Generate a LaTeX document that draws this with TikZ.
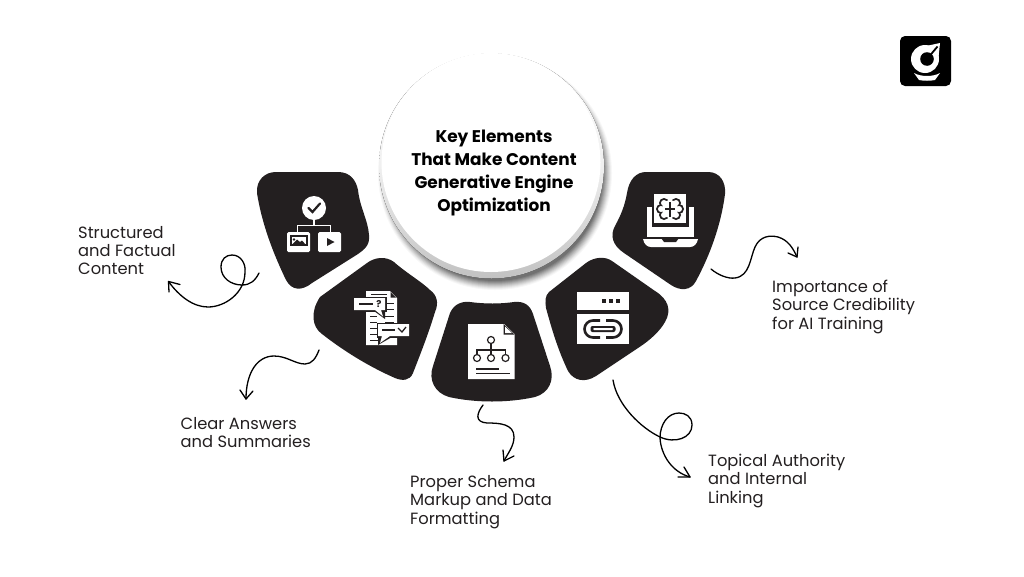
\documentclass[tikz,border=0pt]{standalone}
\usepackage{fontspec}
\setmainfont{Poppins}
\definecolor{ink}{HTML}{231F20}
\tikzset{
  blob/.style={fill=ink,draw=none},
  wic/.style={fill=white,draw=none},
  hand/.style={draw=black,line width=1.3pt,line cap=round,line join=round,fill=none},
  lab/.style={align=left,anchor=north west,inner sep=0pt,font=\fontsize{16.3}{18.2}\selectfont,text=ink},
}
\begin{document}
\begin{tikzpicture}[x=1pt,y=-1pt]
\useasboundingbox (0,0) rectangle (1024,576);
\fill[white] (0,0) rectangle (1024,576);
% shadow of the central disc
\foreach \r/\o in {117/0.03,116/0.04,115/0.05,114/0.06,113/0.07,112/0.08,111/0.09,110/0.10,109/0.11,108/0.12}{
  \fill[black,opacity=\o] (495,173) circle (\r);
}
\fill[top color=white,bottom color=gray!48,middle color=gray!12,draw=none] (491.5,166) circle (112.5);
\node[circle,fill=white,inner sep=0pt,minimum size=219pt] (hub) at (491,162.5) {};
\node[align=center,inner sep=0pt,font=\bfseries\fontsize{16.9}{22.8}\selectfont,text=black] (title) at (494,173)
 {Key Elements\\That Make Content\\Generative Engine\\Optimization};
% blobs
\path[blob] (257,193) .. controls (256,180) and (265,172) .. (276,172)
 -- (338,172) .. controls (350,172) and (356,180) .. (358,190)
 .. controls (360,208) and (368,220) .. (369,235)
 .. controls (370,245) and (365,249) .. (358,254)
 -- (312,283) .. controls (302,291) and (292,291) .. (286,280)
 .. controls (274,255) and (262,225) .. (257,193) -- cycle;
\path[blob] (320,297) -- (367,263) .. controls (375,257) and (386,256) .. (394,262)
 .. controls (405,272) and (422,282) .. (430,290)
 .. controls (437,295) and (439,303) .. (435,312)
 .. controls (428,335) and (420,355) .. (413,373)
 .. controls (410,381) and (402,381) .. (395,378)
 .. controls (370,367) and (345,352) .. (322,334)
 .. controls (312,327) and (310,312) .. (320,297) -- cycle;
\path[blob] (450,313) .. controls (454,304) and (462,301) .. (470,302)
 .. controls (485,304) and (500,304) .. (514,302)
 .. controls (524,301) and (530,305) .. (533,314)
 -- (550,366) .. controls (555,380) and (549,393) .. (535,397)
 .. controls (508,403) and (476,403) .. (449,397)
 .. controls (435,393) and (428,380) .. (433,366) -- cycle;
\path[blob] (549,292) -- (586,263) .. controls (594,257) and (605,256) .. (612,261)
 -- (655,291) .. controls (668,299) and (672,310) .. (665,322)
 .. controls (660,331) and (650,340) .. (641,346)
 -- (596,376) .. controls (585,383) and (574,381) .. (568,371)
 .. controls (558,350) and (552,330) .. (546,308)
 .. controls (545,301) and (545,296) .. (549,292) -- cycle;
\path[blob] (627,193) .. controls (629,180) and (636,172) .. (646,172)
 -- (708,172) .. controls (720,172) and (726,182) .. (725,194)
 .. controls (721,225) and (710,255) .. (696,281)
 .. controls (691,291) and (680,291) .. (671,285)
 -- (624,253) .. controls (612,245) and (610,235) .. (615,226)
 .. controls (621,215) and (625,205) .. (627,193) -- cycle;
% icon 1
\fill[wic] (314,208) circle (12);
\draw[ink,line width=2.2pt,line cap=round] (308.5,208) -- (312.5,212) -- (320,203.5);
\draw[white,line width=1.8pt] (314,219) -- (314,225.5) (297.5,233) -- (297.5,225.5) -- (330.5,225.5) -- (330.5,233);
\fill[wic,rounded corners=1.5pt] (287,232) rectangle (310,252);
\fill[wic,rounded corners=1.5pt] (318,232) rectangle (341,252);
\fill[ink] (289.5,235) rectangle (307.5,245.5);
\fill[white] (291.5,237) rectangle (305.5,244);
\fill[ink] (291.5,245) -- (297,239.5) -- (300,242) -- (302,240.5) -- (306,245) -- cycle;
\fill[ink] (294,239.5) circle (1.3);
\fill[ink] (327,238) -- (334.5,242) -- (327,246) -- cycle;
% icon 2
\fill[wic] (366,291) -- (390,291) -- (397,298) -- (397,345) -- (366,345) -- cycle;
\fill[ink] (390.5,292) -- (396,297.5) -- (390.5,297.5) -- cycle;
\draw[ink,line width=1pt] (371,294.5) -- (387,294.5);
\foreach \y in {303,309}{\draw[ink,line width=1pt] (387,\y) -- (394,\y);}
\foreach \y in {316,322}{\draw[ink,line width=1pt] (385,\y) -- (394,\y);}
\foreach \y in {316,322,328,334,340}{\draw[ink,line width=1pt] (370,\y) -- (377,\y);}
\draw[ink,line width=1pt] (370,340.5) -- (382,340.5);
\fill[ink] (352.5,296.5) rectangle (387,311.5);
\fill[ink] (374,311) -- (385,311) -- (385,319) -- cycle;
\fill[wic] (354,298) -- (385,298) -- (385,310) -- (381,310) -- (383,316.5) -- (375,310) -- (354,310) -- cycle;
\draw[ink,line width=1.1pt] (359,304) -- (373,304);
\node[inner sep=0pt,font=\bfseries\fontsize{9.5}{9.5}\selectfont,text=ink] (qm) at (379,304) {?};
\fill[ink] (376.5,322.5) rectangle (410.5,337.5);
\fill[ink] (378,337) -- (392,337) -- (378,345) -- cycle;
\fill[wic] (378,324) -- (409,324) -- (409,336) -- (390,336) -- (380,343) -- (382,336) -- (378,336) -- cycle;
\draw[ink,line width=1.1pt] (382,330) -- (395,330);
\draw[ink,line width=1.3pt] (398,328) -- (402,332) -- (406,327);
% icon 3
\fill[wic] (468,324) -- (504,324) -- (514.5,334) -- (514.5,379) -- (468,379) -- cycle;
\fill[ink] (503.5,324) -- (514.5,334.5) -- (503.5,334.5) -- cycle;
\fill[white] (505,326.5) -- (512,333) -- (505,333) -- cycle;
\draw[ink,line width=1.2pt] (491,344) -- (491,354) (477,354) -- (477,350) -- (505.5,350) -- (505.5,354);
\foreach \x/\y in {491/340,477/358,491/358,505.5/358}{\draw[ink,line width=1.2pt] (\x,\y) circle (3.5);}
\draw[ink,line width=1.1pt] (476,369) -- (499,369) (476,373.5) -- (510,373.5);
% icon 4
\fill[wic] (577,292) rectangle (629,310);
\fill[wic] (577,314) rectangle (629,344);
\foreach \x in {604,611,618}{\fill[ink] (\x-2,299) rectangle (\x+2,303);}
\draw[ink,line width=2.6pt] (600,320.5) -- (593,320.5) arc[start angle=-90,end angle=-270,radius=8.5] -- (600,337.5);
\draw[ink,line width=2.6pt] (606,320.5) -- (613,320.5) arc[start angle=-90,end angle=90,radius=8.5] -- (606,337.5);
\fill[ink,rounded corners=2pt] (590.5,326) rectangle (615.5,332);
\fill[white,rounded corners=1pt] (593,328) rectangle (613,330);
% icon 5
\fill[wic] (647,207) rectangle (694,237);
\fill[ink] (652,207) rectangle (689,227);
\fill[wic] (654,194) rectangle (686,223);
\foreach \x/\y in {664/203,661/209,664/215,676/203,679/209,676/215}{\fill[ink] (\x,\y) circle (5);}
\fill[white] (670,209) ellipse (8 and 9);
\foreach \x/\y in {664/203,661/209,664/215,676/203,679/209,676/215}{\fill[white] (\x,\y) circle (3);}
\draw[ink,line width=1.7pt] (670,202) -- (670,217) (665,209) -- (675,209);
\path[wic] (643,239) -- (698,239) .. controls (697,244) and (694,247) .. (690,247) -- (651,247) .. controls (647,247) and (644,244) .. (643,239) -- cycle;
\fill[ink] (661,238) -- (679,238) -- (676,242) -- (664,242) -- cycle;
% logo
\fill[black,rounded corners=5pt] (900,36) rectangle (951,86);
\fill[white] (925,59) circle (14);
\fill[white] (940,43) -- (938,62) -- (917,48) -- cycle;
\fill[black] (927,59) circle (6.8);
\draw[black,line width=1.8pt] (927,59) -- (937.5,46.5);
\fill[white] (914,73) .. controls (921,77) and (933,77) .. (940,73) -- (935,80) .. controls (930,81) and (924,81) .. (919,80) -- cycle;
% connectors
\coordinate (a1s) at (259,273);
\coordinate (a1e) at (168.5,281.5);
\draw[hand] (a1s) .. controls (255,281) and (250,285) .. (242,285)
 .. controls (231,285) and (221,278) .. (221,267)
 .. controls (221,259) and (226,255) .. (232,255)
 .. controls (241,255) and (246,264) .. (245,272)
 .. controls (245,293) and (225,307) .. (208,307)
 .. controls (193,307) and (179,296) .. (a1e);
\draw[hand] (180,284.5) -- (a1e) -- (169,292);
\coordinate (a2s) at (319,350);
\coordinate (a2e) at (246,399);
\draw[hand] (a2s) .. controls (316,358) and (312,364) .. (305,364)
 .. controls (295,364) and (287,356) .. (274,356)
 .. controls (257,356) and (246,373) .. (a2e);
\draw[hand] (240,390) -- (a2e) -- (253,391);
\coordinate (a3s) at (483,405);
\coordinate (a3e) at (504,461);
\draw[hand] (a3s) .. controls (477,413) and (474,422) .. (487,423)
 .. controls (500,423) and (514,424) .. (514,437)
 .. controls (514,446) and (508,453) .. (a3e);
\draw[hand] (503,450) -- (a3e) -- (514,456);
\coordinate (a4s) at (613,380);
\coordinate (a4e) at (690,477);
\draw[hand] (a4s) .. controls (617,405) and (641,428) .. (660,437)
 .. controls (675,444) and (692,438) .. (692,425)
 .. controls (692,416) and (685,413) .. (679,413)
 .. controls (668,413) and (660,424) .. (660,438)
 .. controls (661,455) and (672,472) .. (a4e);
\draw[hand] (684,467) -- (a4e) -- (678,477);
\coordinate (a5s) at (711,269);
\coordinate (a5e) at (797,257);
\draw[hand] (a5s) .. controls (718,275) and (728,279) .. (735,278)
 .. controls (750,276) and (750,258) .. (755,247)
 .. controls (760,236) and (770,235) .. (778,237)
 .. controls (788,240) and (793,248) .. (a5e);
\draw[hand] (798,247) -- (a5e) -- (788,253);
% labels
\node[lab] (l1) at (78,226) {Structured\\and Factual\\Content};
\node[lab] (l2) at (180.5,417.5) {Clear Answers\\and Summaries};
\node[lab] (l3) at (410,475.5) {Proper Schema\\Markup and Data\\Formatting};
\node[lab] (l4) at (708,454) {Topical Authority\\and Internal\\Linking};
\node[lab] (l5) at (772,280) {Importance of\\Source Credibility\\for AI Training};
\end{tikzpicture}
\end{document}
